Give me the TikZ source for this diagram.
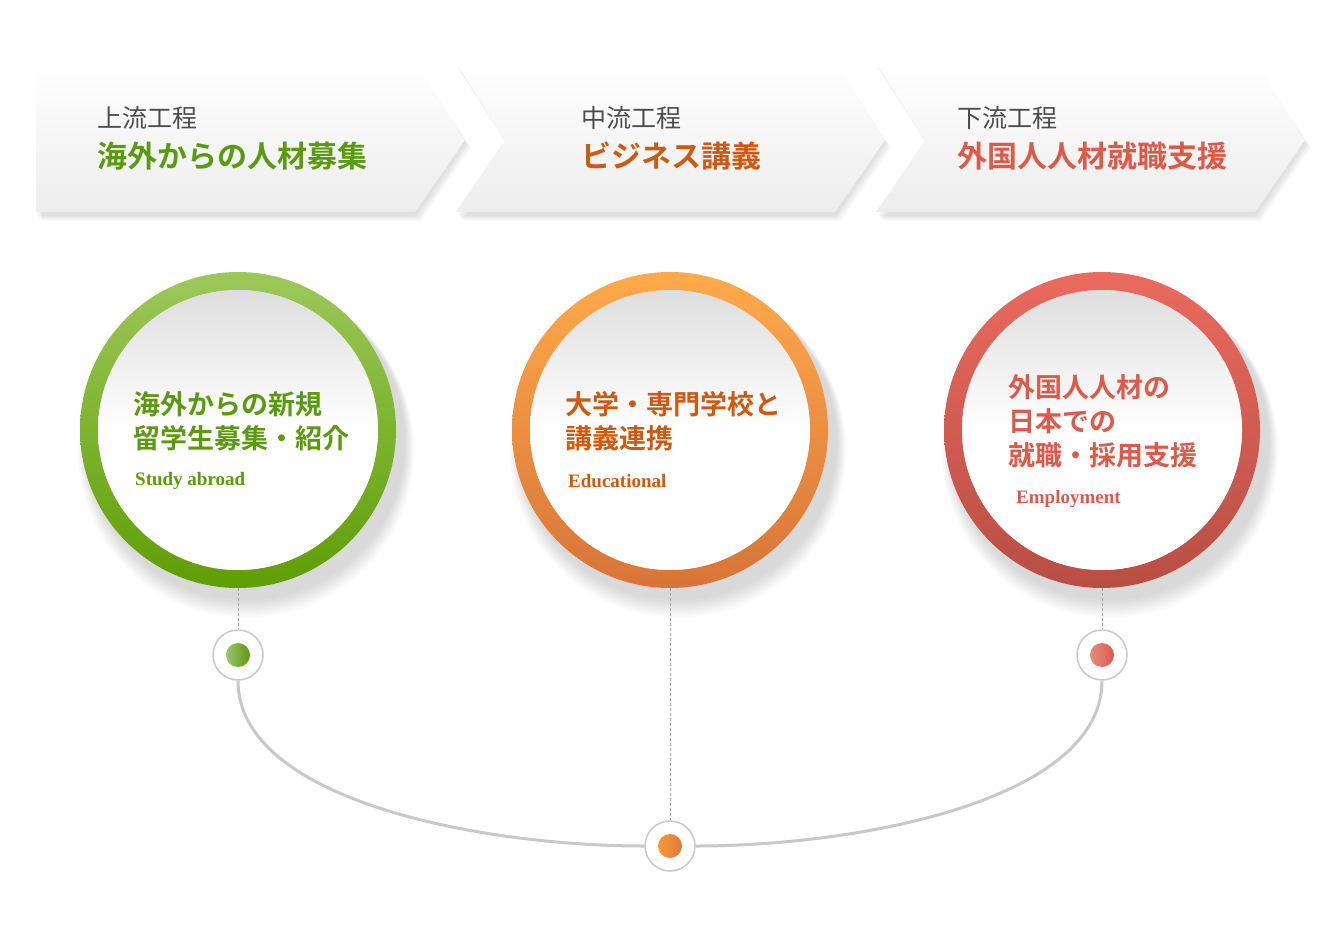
\documentclass[tikz,border=0pt]{standalone}
\usepackage{fontspec}
\newfontfamily\jp{Noto Sans CJK JP}
\newfontfamily\jpb{Noto Sans CJK JP Bold}
\setmainfont{Liberation Serif}
\usetikzlibrary{positioning}
\definecolor{upgreen}{HTML}{5A9A10}
\definecolor{midorange}{HTML}{CC5A10}
\definecolor{downred}{HTML}{DC5A4A}
\definecolor{linegray}{HTML}{C8C8C8}
\tikzset{
  chevron/.style={top color=white, bottom color=black!7, draw=none},
  stagelabel/.style={anchor=west, inner sep=0pt, text=black!70, font=\jp\fontsize{25}{28}\selectfont},
  stagetitle/.style={anchor=west, inner sep=0pt, font=\jpb\fontsize{30}{34}\selectfont},
  circtext/.style={anchor=north west, inner sep=0pt, align=left, font=\jpb\fontsize{27}{34}\selectfont},
  engtext/.style={anchor=west, inner sep=0pt, font=\bfseries\fontsize{19}{22}\selectfont},
  dotring/.style={circle, draw=linegray, line width=1.5pt, fill=white, minimum size=50pt, inner sep=0pt},
  link/.style={linegray, line width=3pt},
  drop/.style={densely dashed, black!35, line width=1pt}
}
\begin{document}
\begin{tikzpicture}[x=1pt,y=-1pt]
  \useasboundingbox (0,0) rectangle (1340,925);

  % chevrons with a soft shadow
  \foreach \dx/\nt in {0/0,420/1,840/1}{
    \foreach \k in {1,...,6}
      \fill[black, opacity=0.02] ({36+\dx+\k},{66+\k}) -- ({415+\dx+\k},{66+\k}) -- ({465+\dx+\k},{142+\k})
        -- ({415+\dx+\k},{215+\k}) -- ({36+\dx+\k},{215+\k})
        \ifnum\nt=1 -- ({85+\dx+\k},{142+\k}) \fi -- cycle;
    \shade[chevron] ({36+\dx},63) -- ({415+\dx},63) -- ({465+\dx},140)
      -- ({415+\dx},212) -- ({36+\dx},212)
      \ifnum\nt=1 -- ({85+\dx},140) \fi -- cycle;
  }

  % stage headings
  \node[stagelabel] (lab1) at (97,118) {上流工程};
  \node[stagetitle, text=upgreen] (tit1) at (97,156) {海外からの人材募集};
  \node[stagelabel] (lab2) at (581,118) {中流工程};
  \node[stagetitle, text=midorange] (tit2) at (581,156) {ビジネス講義};
  \node[stagelabel] (lab3) at (957,118) {下流工程};
  \node[stagetitle, text=downred] (tit3) at (957,156) {外国人人材就職支援};

  % big rings
  \foreach \cx/\ct/\cb in {238/9CC85A/5F9E05, 670/FFAA4A/D87438, 1102/EA6A5E/B84E44}{
    \definecolor{ringtop}{HTML}{\ct}
    \definecolor{ringbot}{HTML}{\cb}
    \foreach \k in {1,...,10}
      \fill[black, opacity=0.015] ({\cx+8},{440+\k}) circle ({158+\k});
    \shade[top color=ringtop, bottom color=ringbot, even odd rule]
      (\cx,430) circle (158) (\cx,430) circle (140);
    \shade[top color=black!13, bottom color=white, middle color=white, shading angle=0]
      (\cx,430) circle (140);
  }
  \coordinate (ring1) at (238,588);
  \coordinate (ring2) at (670,588);
  \coordinate (ring3) at (1102,588);

  % ring texts
  \node[circtext, text=upgreen] (txt1) at (133,391) {海外からの新規\\留学生募集・紹介};
  \node[engtext, text=upgreen] (eng1) at (135,481) {Study abroad};
  \node[circtext, text=midorange] (txt2) at (565,391) {大学・専門学校と\\講義連携};
  \node[engtext, text=midorange] (eng2) at (568,481) {Educational};
  \node[circtext, text=downred] (txt3) at (1008,374) {外国人人材の\\日本での\\就職・採用支援};
  \node[engtext, text=downred] (eng3) at (1016,499) {Employment};

  % small dots
  \node[dotring] (dot1) at (238,655) {};
  \node[dotring] (dot2) at (670,846) {};
  \node[dotring] (dot3) at (1102,655) {};
  \shade[left color=upgreen!60, right color=upgreen] (dot1) circle (12);
  \shade[left color=orange!80, right color=midorange!80] (dot2) circle (12);
  \shade[left color=downred!70, right color=downred] (dot3) circle (12);

  % connectors
  \draw[drop] (ring1) -- (dot1.north);
  \draw[drop] (ring2) -- (dot2.north);
  \draw[drop] (ring3) -- (dot3.north);
  \draw[link] (dot1.south) .. controls (238,800) and (480,846) .. (dot2.west);
  \draw[link] (dot2.east) .. controls (860,846) and (1102,800) .. (dot3.south);
\end{tikzpicture}
\end{document}
